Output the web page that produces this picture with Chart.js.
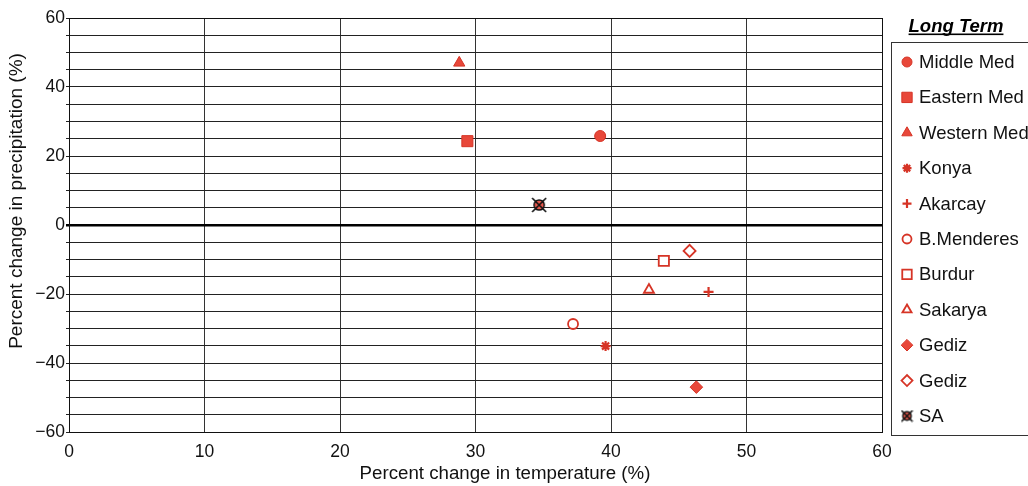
<!DOCTYPE html>
<html>
<head>
<meta charset="utf-8">
<script src="https://cdn.jsdelivr.net/npm/chart.js@4/dist/chart.umd.min.js"></script>
<style>
  html, body { margin: 0; padding: 0; background: #fff; }
  #grafico { display: block; }
</style>
</head>
<body>
<canvas id="grafico" width="1028" height="486"></canvas>
<script>
// Datos (cambio de temperatura %, cambio de precipitación %)
const nombres = ["Middle Med", "Eastern Med", "Western Med", "Konya", "Akarcay",
  "B.Menderes", "Burdur", "Sakarya", "Gediz", "Gediz", "SA"];
const temperatura = [39.2, 29.4, 28.8, 39.6, 47.2, 37.2, 43.9, 42.8, 46.3, 45.8, 34.7];
const precipitacion = [25.8, 24.3, 47.0, -35.1, -19.4, -28.7, -10.4, -18.8, -47.0, -7.5, 5.8];
const estilos = ["circle", "rect", "triangle", "star", "cross",
  "circle", "rect", "triangle", "rectRot", "rectRot", "sa"];
const rellenos = [true, true, true, false, false, false, false, false, true, false, true];
const radios = [5.5, 7.8, 6.5, 5, 5, 5, 7.2, 5.8, 6.3, 6, 8];

const xTicks = [0, 10, 20, 30, 40, 50, 60];
const yTicks = [-60, -40, -20, 0, 20, 40, 60];

const ROJO = "#e8483a";
const ROJO_BORDE = "#d63426";
const FUENTE = "'Liberation Sans', Arial, sans-serif";

// Marcador SA: círculo rojo con una X negra encima
const crearMarcadorSA = (size) => {
  const c = document.createElement("canvas");
  c.width = size;
  c.height = size;
  const g = c.getContext("2d");
  const m = size / 2;
  g.beginPath();
  g.arc(m, m, size * 0.32, 0, Math.PI * 2);
  g.fillStyle = "#ea5a4e";
  g.fill();
  g.lineWidth = 1.5;
  g.strokeStyle = "#111";
  g.stroke();
  g.beginPath();
  g.moveTo(1, 1); g.lineTo(size - 1, size - 1);
  g.moveTo(size - 1, 1); g.lineTo(1, size - 1);
  g.lineWidth = 1.6;
  g.stroke();
  return c;
};
const marcadorSA = crearMarcadorSA(16);
const marcadorSALeyenda = crearMarcadorSA(13);

const menos = (v) => (v < 0 ? "\u2212" + Math.abs(v) : String(v));

const datasets = nombres.map((nombre, i) => {
  const relleno = rellenos[i];
  const estilo = estilos[i] === "sa" ? marcadorSA : estilos[i];
  const lineal = estilos[i] === "star" || estilos[i] === "cross";
  return {
    label: nombre,
    data: [{ x: temperatura[i], y: precipitacion[i] }],
    pointStyle: estilo,
    pointRadius: radios[i],
    pointBackgroundColor: relleno ? ROJO : "#fff",
    pointBorderColor: ROJO_BORDE,
    pointBorderWidth: relleno ? 1 : (lineal ? 2.2 : 1.8),
  };
});

// Leyenda y títulos de los ejes dibujados a mano
const leyendaPlugin = {
  id: "leyenda",
  afterDraw(chart) {
    const ctx = chart.ctx;
    ctx.save();
    ctx.strokeStyle = "#333";
    ctx.lineWidth = 1;
    ctx.strokeRect(891.5, 42.5, 150, 393);

    ctx.fillStyle = "#000";
    ctx.font = "italic bold 18.5px " + FUENTE;
    ctx.textAlign = "center";
    ctx.textBaseline = "alphabetic";
    ctx.fillText("Long Term", 956, 31.5);
    const w = ctx.measureText("Long Term").width;
    ctx.fillRect(956 - w / 2, 33.5, w, 1.6);

    ctx.font = "18.5px " + FUENTE;
    ctx.textAlign = "left";
    ctx.textBaseline = "middle";
    nombres.forEach((nombre, i) => {
      const y = 62 + i * 35.4;
      const ds = chart.data.datasets[i];
      const opts = {
        pointStyle: estilos[i] === "sa" ? marcadorSALeyenda : ds.pointStyle,
        rotation: 0,
        radius: ds.pointRadius - 0.5,
        borderWidth: ds.pointBorderWidth,
      };
      ctx.fillStyle = ds.pointBackgroundColor;
      ctx.strokeStyle = ds.pointBorderColor;
      ctx.lineWidth = ds.pointBorderWidth;
      Chart.helpers.drawPoint(ctx, opts, 907, y);
      ctx.fillStyle = "#111";
      ctx.fillText(nombre, 919, y + 1);
    });

    // título del eje X
    ctx.font = "18.7px " + FUENTE;
    ctx.textAlign = "center";
    ctx.textBaseline = "middle";
    ctx.fillStyle = "#111";
    ctx.fillText("Percent change in temperature (%)", 505, 474);

    // título del eje Y
    ctx.translate(17, 201);
    ctx.rotate(-Math.PI / 2);
    ctx.font = "19px " + FUENTE;
    ctx.fillText("Percent change in precipitation (%)", 0, 0);
    ctx.restore();
  },
};

// Borde negro del área del gráfico
const bordePlugin = {
  id: "borde",
  afterDraw(chart) {
    const { left, top, right, bottom } = chart.chartArea;
    const ctx = chart.ctx;
    ctx.save();
    ctx.strokeStyle = "#111";
    ctx.lineWidth = 1;
    ctx.strokeRect(left + 0.5, top + 0.5, right - left, bottom - top);
    ctx.restore();
  },
};

Chart.defaults.font.family = FUENTE;
Chart.defaults.font.size = 17.5;
Chart.defaults.color = "#111";

new Chart(document.getElementById("grafico"), {
  type: "scatter",
  data: { datasets },
  options: {
    responsive: false,
    animation: false,
    layout: { padding: { left: 0, right: 146, top: 18, bottom: 0 } },
    plugins: {
      legend: { display: false },
      tooltip: { enabled: false },
    },
    scales: {
      x: {
        min: xTicks[0],
        max: xTicks[xTicks.length - 1],
        afterBuildTicks: (scale) => {
          scale.ticks = xTicks.map((v) => ({ value: v }));
        },
        afterFit: (scale) => { scale.height = 54; },
        ticks: { padding: 10, color: "#111", maxRotation: 0 },
        grid: { color: "#333", lineWidth: 1, drawTicks: false },
        border: { display: false },
      },
      y: {
        min: yTicks[0],
        max: yTicks[yTicks.length - 1],
        afterBuildTicks: (scale) => {
          const t = [];
          for (let v = yTicks[0]; v <= yTicks[yTicks.length - 1]; v += 5) t.push({ value: v });
          scale.ticks = t;
        },
        afterFit: (scale) => { scale.width = 69; },
        ticks: {
          padding: 1,
          color: "#111",
          autoSkip: false,
          callback: (v) => (yTicks.includes(v) ? menos(v) : ""),
        },
        grid: {
          color: (c) => (c.tick && c.tick.value === 0 ? "#000" : "#222"),
          lineWidth: (c) => (c.tick && c.tick.value === 0 ? 2.5 : 1),
          tickLength: 3,
        },
        border: { display: false },
      },
    },
  },
  plugins: [leyendaPlugin, bordePlugin],
});
</script>
</body>
</html>
